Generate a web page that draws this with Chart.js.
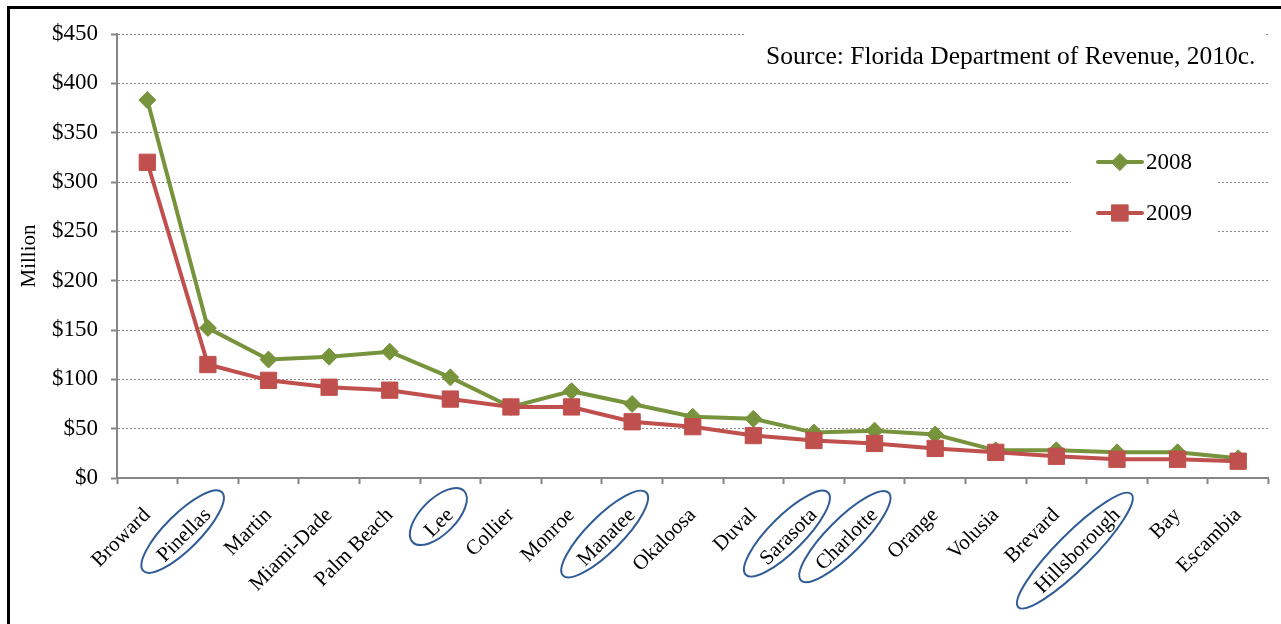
<!DOCTYPE html>
<html>
<head>
<meta charset="utf-8">
<title>Florida county revenue 2008-2009</title>
<script src="https://cdn.jsdelivr.net/npm/chart.js@4.4.1/dist/chart.umd.min.js"></script>
<style>
  html, body { margin: 0; padding: 0; background: #fff; overflow: hidden; }
  #frame { position: absolute; left: 7px; top: 6px; width: 1320px; height: 700px; border: 3px solid #000; }
  #wrap { position: absolute; left: 0; top: 0; width: 1281px; height: 624px; }
</style>
</head>
<body>
<div id="frame"></div>
<div id="wrap"><canvas id="chart"></canvas></div>
<script>
// counties in descending order of 2008 revenue
const counties = ['Broward', 'Pinellas', 'Martin', 'Miami-Dade', 'Palm Beach', 'Lee', 'Collier', 'Monroe', 'Manatee',
    'Okaloosa', 'Duval', 'Sarasota', 'Charlotte', 'Orange', 'Volusia', 'Brevard', 'Hillsborough', 'Bay', 'Escambia'];
// revenue in millions of dollars
const rev2008 = [383, 152, 120, 123, 128, 102, 72, 88, 75, 62, 60, 46, 48, 44, 28, 28, 26, 26, 20];
const rev2009 = [320, 115, 99, 92, 89, 80, 72, 72, 57, 52, 43, 38, 35, 30, 26, 22, 19, 19, 17];
const yMax = 450;
const yStep = 50;
// counties marked with a ring under the axis
const circled = ['Pinellas', 'Lee', 'Manatee', 'Sarasota', 'Charlotte', 'Hillsborough'];
const sourceNote = 'Source: Florida Department of Revenue, 2010c.';

const SERIF = '"Liberation Serif", "Times New Roman", serif';
const GREEN = '#77933c';
const RED = '#c0504d';
const AXIS = '#868686';
const X_FONT = 21;
const X_TICK_LEN = 6;
const X_PAD = 19;

Chart.defaults.font.family = SERIF;
Chart.defaults.color = '#000';

// white boxes for the source note and the legend, drawn over the grid
const notesPlugin = {
    id: 'notes',
    beforeDatasetsDraw(chart) {
        const ctx = chart.ctx;
        ctx.save();
        ctx.fillStyle = '#fff';
        ctx.fillRect(746, 22, 518, 56);
        ctx.fillRect(1071, 138, 146, 106);
        ctx.fillStyle = '#000';
        ctx.font = '25.5px ' + SERIF;
        ctx.textBaseline = 'middle';
        ctx.fillText(sourceNote, 766, 57);
        ctx.restore();
    },
    afterDatasetsDraw(chart) {
        const ctx = chart.ctx;
        ctx.save();
        chart.data.datasets.forEach((ds, i) => {
            const y = 162 + i * 51;
            ctx.strokeStyle = ds.borderColor;
            ctx.lineWidth = 4;
            ctx.lineCap = 'round';
            ctx.beginPath();
            ctx.moveTo(1098, y);
            ctx.lineTo(1142, y);
            ctx.stroke();
            ctx.fillStyle = ds.borderColor;
            ctx.lineWidth = 1;
            Chart.helpers.drawPoint(ctx, { pointStyle: ds.pointStyle, radius: ds.pointRadius, rotation: 0, borderWidth: 1 }, 1120, y);
            ctx.fillStyle = '#000';
            ctx.font = '23px ' + SERIF;
            ctx.textBaseline = 'middle';
            ctx.fillText(ds.label, 1146, y + 1);
        });
        ctx.restore();
    },
    // rings around selected category labels, centred on each rotated label
    afterDraw(chart) {
        const xs = chart.scales.x;
        const ctx = chart.ctx;
        ctx.save();
        ctx.font = X_FONT + 'px ' + SERIF;
        ctx.strokeStyle = '#2f5c97';
        ctx.lineWidth = 2;
        circled.forEach(name => {
            const i = counties.indexOf(name);
            const w = ctx.measureText(name).width;
            const ax = xs.getPixelForTick(i);
            const ay = xs.top + X_TICK_LEN + X_PAD;
            const cx = ax - w * 0.38;
            const cy = ay + w * 0.43;
            ctx.beginPath();
            ctx.ellipse(cx, cy, w * 0.55 + 19, 17.5, -Math.PI / 4, 0, Math.PI * 2);
            ctx.stroke();
        });
        ctx.restore();
    }
};

new Chart(document.getElementById('chart'), {
    type: 'line',
    data: {
        labels: counties,
        datasets: [{
            label: '2008',
            data: rev2008,
            borderColor: GREEN,
            backgroundColor: GREEN,
            borderWidth: 4,
            pointStyle: 'rectRot',
            pointRadius: 8.5,
            pointBorderWidth: 1,
            pointHoverRadius: 8.5,
            tension: 0,
            order: 2
        }, {
            label: '2009',
            data: rev2009,
            borderColor: RED,
            backgroundColor: RED,
            borderWidth: 4,
            pointStyle: 'rect',
            pointRadius: 11.5,
            pointBorderWidth: 1,
            pointHoverRadius: 11.5,
            tension: 0,
            order: 1
        }]
    },
    options: {
        responsive: true,
        maintainAspectRatio: false,
        animation: false,
        layout: { padding: { left: 0, top: 34, right: 9, bottom: 0 } },
        plugins: {
            legend: { display: false },
            tooltip: { enabled: false }
        },
        scales: {
            x: {
                offset: true,
                afterFit: (s) => { s.height = 146; },
                border: { color: AXIS, width: 2 },
                grid: { offset: true, drawOnChartArea: false, tickLength: X_TICK_LEN, tickColor: AXIS, tickWidth: 2 },
                ticks: { font: { size: X_FONT }, color: '#000', maxRotation: 45, minRotation: 45, autoSkip: false, padding: X_PAD }
            },
            y: {
                min: 0,
                max: yMax,
                afterFit: (s) => { s.width = 117; },
                border: { color: AXIS, width: 2, dash: [2, 2] },
                grid: { color: '#8a8a8a', tickLength: 6, tickColor: AXIS, tickWidth: 2, tickBorderDash: [] },
                ticks: { stepSize: yStep, font: { size: 23 }, color: '#000', padding: 13, callback: (v) => '$' + v },
                title: { display: true, text: 'Million', font: { size: 21 }, color: '#000', padding: { top: 17, bottom: 0 } }
            }
        }
    },
    plugins: [notesPlugin]
});
</script>
</body>
</html>
